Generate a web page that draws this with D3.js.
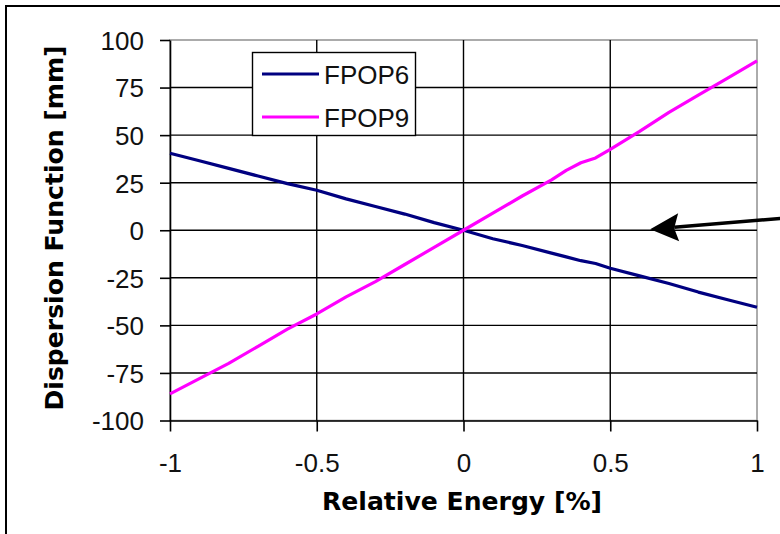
<!DOCTYPE html>
<html><head><meta charset="utf-8">
<script src="https://cdn.jsdelivr.net/npm/d3@7"></script>
<style>html,body{margin:0;padding:0;background:#fff;}svg{display:block;}</style>
</head><body>
<svg id="c" width="780" height="534"></svg>
<script>
const energy = [-1,-0.9,-0.8,-0.7,-0.6,-0.5,-0.4,-0.3,-0.2,-0.1,0,0.1,0.2,0.3,0.35,0.4,0.45,0.5,0.6,0.7,0.8,0.9,1];
const fpop6 = [40.5,36.5,32.5,28.5,24.5,21,16.5,12.5,8.5,4,0,-4.5,-8,-12,-14,-16,-17.5,-20,-24,-28,-32.5,-36.5,-40.5];
const fpop9 = [-86,-78,-70,-61,-52,-44,-35,-27,-18,-9,0,9,18,26.5,31.5,35.5,38,42.5,52,62,71,80,89];
const seriesNames = ["FPOP6","FPOP9"];
const seriesColors = ["#000080","#FF00FF"];
const xTicks = [-1,-0.5,0,0.5,1];
const yTicks = [-100,-75,-50,-25,0,25,50,75,100];
const xTitle = "Relative Energy [%]";
const yTitle = "Dispersion Function [mm]";

const svg = d3.select("#c");
const L=170, R=757, T=40, B=420.5;
const x = d3.scaleLinear().domain([-1,1]).range([L,R]);
const y = d3.scaleLinear().domain([-100,100]).range([B,T]);

// outer frame
svg.append("rect").attr("x",6).attr("y",6).attr("width",800).attr("height",600)
  .attr("fill","none").attr("stroke","#000").attr("stroke-width",2);

// plot border (gray)
svg.append("rect").attr("x",L).attr("y",T).attr("width",R-L).attr("height",B-T)
  .attr("fill","#fff").attr("stroke","#909090").attr("stroke-width",1.5);

// gridlines
const g = svg.append("g");
yTicks.filter(v=>v>-100 && v<100).forEach(v=>{
  g.append("line").attr("x1",L).attr("x2",R).attr("y1",y(v)).attr("y2",y(v))
   .attr("stroke","#000").attr("stroke-width",1.4);
});
xTicks.filter(v=>v>-1 && v<1).forEach(v=>{
  g.append("line").attr("x1",x(v)).attr("x2",x(v)).attr("y1",T).attr("y2",B)
   .attr("stroke","#000").attr("stroke-width",1.4);
});

// axes
const font = "'Liberation Sans', Arial, sans-serif";
const yAxis = d3.axisLeft(y).tickValues(yTicks).tickSize(10).tickSizeOuter(0).tickPadding(16).tickFormat(d=>String(d));
const ya = svg.append("g").attr("transform",`translate(${L},0)`).call(yAxis);
const xAxis = d3.axisBottom(x).tickValues(xTicks).tickSize(11).tickSizeOuter(0).tickPadding(22).tickFormat(d=>String(d));
const xa = svg.append("g").attr("transform",`translate(0,${B})`).call(xAxis);
[ya,xa].forEach(a=>{
  a.select(".domain").attr("stroke","#000").attr("stroke-width",1.6);
  a.selectAll(".tick line").attr("stroke","#000").attr("stroke-width",1.6);
  a.selectAll(".tick text").attr("fill","#111").style("font-family",font).style("font-size","26px");
});
ya.selectAll(".tick text").attr("dy","0.36em");

// lines
const dataSets = [fpop6, fpop9];
const line = d3.line().x((d,i)=>x(energy[i])).y(d=>y(d));
dataSets.forEach((ds,k)=>{
  svg.append("path").datum(ds).attr("d",line).attr("fill","none")
    .attr("stroke",seriesColors[k]).attr("stroke-width",3.2).attr("stroke-linejoin","round");
});

// legend
const lg = svg.append("g");
lg.append("rect").attr("x",252.5).attr("y",52.5).attr("width",163).attr("height",83)
  .attr("fill","#fff").attr("stroke","#000").attr("stroke-width",1.4);
seriesNames.forEach((n,k)=>{
  const yy = 74 + k*43;
  lg.append("line").attr("x1",262).attr("x2",319).attr("y1",yy).attr("y2",yy)
    .attr("stroke",seriesColors[k]).attr("stroke-width",3.2);
  lg.append("text").attr("x",324).attr("y",yy+9.5).text(n)
    .style("font-family",font).style("font-size","26px").attr("fill","#111");
});

// axis titles
svg.append("text").attr("x",462).attr("y",510).attr("text-anchor","middle").text(xTitle)
  .style("font-family","'DejaVu Sans', Verdana, sans-serif").style("font-weight","bold").style("font-size","24px")
  .attr("textLength",280).attr("lengthAdjust","spacingAndGlyphs");
svg.append("text").attr("transform","translate(63,228) rotate(-90)").attr("text-anchor","middle").text(yTitle)
  .style("font-family","'DejaVu Sans', Verdana, sans-serif").style("font-weight","bold").style("font-size","24px")
  .attr("textLength",365).attr("lengthAdjust","spacingAndGlyphs");

// annotation arrow
const tipX = x(0.636), tipY = y(0.5);
svg.append("line").attr("x1",tipX+24).attr("y1",tipY-2).attr("x2",782).attr("y2",tipY-11)
  .attr("stroke","#000").attr("stroke-width",3.5);
svg.append("path").attr("d",`M${tipX},${tipY} L${tipX+28},${tipY-16} L${tipX+24},${tipY-1} L${tipX+29},${tipY+12} Z`)
  .attr("fill","#000");
</script>
</body></html>
